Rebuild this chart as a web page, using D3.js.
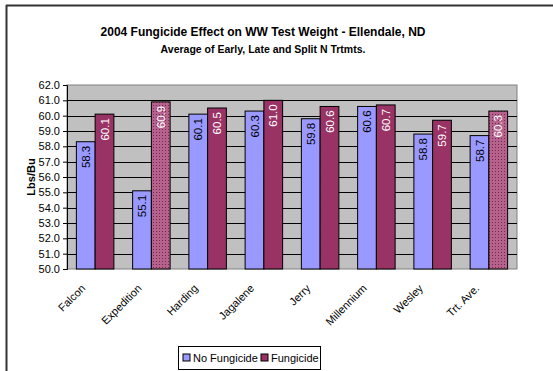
<!DOCTYPE html>
<html><head><meta charset="utf-8">
<script src="https://cdn.jsdelivr.net/npm/d3@7"></script>
<style>body{margin:0;background:#fff;}svg{display:block;font-family:"Liberation Sans",Arial,sans-serif;}</style>
</head><body><svg id="c" width="553" height="371"></svg>
<script>
const categories = ["Falcon","Expedition","Harding","Jagalene","Jerry","Millennium","Wesley","Trt. Ave."];
const noFungicide = [58.3,55.1,60.1,60.3,59.8,60.6,58.8,58.7];
const fungicide = [60.1,60.9,60.5,61.0,60.6,60.7,59.7,60.3];
const patterned = ["Expedition","Trt. Ave."];
const yTicks = [50,51,52,53,54,55,56,57,58,59,60,61,62];
const seriesNames = ["No Fungicide","Fungicide"];

const svg = d3.select("#c");
const defs = svg.append("defs");
const pat = defs.append("pattern").attr("id","dots").attr("patternUnits","userSpaceOnUse").attr("width",3).attr("height",3);
pat.append("rect").attr("width",3).attr("height",3).attr("fill","#b5628c");
pat.append("rect").attr("width",1).attr("height",1).attr("fill","#7a2450");

// outer border
svg.append("line").attr("x1",6).attr("y1",5.5).attr("x2",553).attr("y2",5.5).attr("stroke","#333").attr("stroke-width",2);
svg.append("line").attr("x1",6.5).attr("y1",5).attr("x2",6.5).attr("y2",371).attr("stroke","#333").attr("stroke-width",2);

const L=67,R=517,T=85,B=269;
const x = d3.scaleBand().domain(categories).range([L,R]).paddingInner(0).paddingOuter(0);
const y = d3.scaleLinear().domain([50,62]).range([B,T]);

svg.append("rect").attr("x",L).attr("y",T).attr("width",R-L).attr("height",B-T).attr("fill","#c0c0c0").attr("stroke","#808080").attr("stroke-width",1);

svg.append("g").selectAll("line").data(yTicks.slice(1,-1)).join("line")
  .attr("x1",L).attr("x2",R).attr("y1",d=>Math.round(y(d))+0.5).attr("y2",d=>Math.round(y(d))+0.5)
  .attr("stroke","#000").attr("stroke-width",1);

const yAxis = d3.axisLeft(y).tickValues(yTicks).tickFormat(d3.format(".1f")).tickSize(4).tickPadding(3);
const ga = svg.append("g").attr("transform",`translate(${L},0)`).call(yAxis);
ga.select(".domain").attr("stroke","#000");
ga.selectAll(".tick line").attr("stroke","#000");
ga.selectAll("text").attr("font-size",11).attr("fill","#000").attr("font-family","Liberation Sans, Arial");

const bw = x.bandwidth()/3;
const inner = d3.scaleBand().domain(seriesNames).range([0,2*bw]);
const colors = {"No Fungicide":"#9999ff","Fungicide":"#993366"};
const data = [];
categories.forEach((c,i)=>{
  data.push({c,s:"No Fungicide",v:noFungicide[i]});
  data.push({c,s:"Fungicide",v:fungicide[i]});
});
const bars = svg.append("g");
bars.selectAll("rect").data(data).join("rect")
  .attr("x",d=>x(d.c)+bw+inner(d.s)-bw/2)
  .attr("y",d=>y(d.v))
  .attr("width",inner.bandwidth())
  .attr("height",d=>B-y(d.v))
  .attr("fill",d=>(d.s==="Fungicide"&&patterned.includes(d.c))?"url(#dots)":colors[d.s])
  .attr("stroke","#000").attr("stroke-width",1);

bars.selectAll("text").data(data).join("text")
  .attr("transform",d=>`translate(${x(d.c)+bw+inner(d.s)-bw/2+inner.bandwidth()/2+4},${y(d.v)+4}) rotate(-90)`)
  .attr("text-anchor","end").attr("font-size",11.5)
  .attr("fill",d=>d.s==="Fungicide"?"#fff":"#000")
  .text(d=>d3.format(".1f")(d.v));

svg.append("g").selectAll("text").data(categories).join("text")
  .attr("transform",d=>`translate(${x(d)+x.bandwidth()/2-9},${B+20}) rotate(-45)`)
  .attr("text-anchor","end").attr("font-size",11).attr("fill","#000").text(d=>d);

svg.append("text").attr("x",263).attr("y",36).attr("text-anchor","middle").attr("font-weight","bold").attr("font-size",12).text("2004 Fungicide Effect on WW Test Weight - Ellendale, ND");
svg.append("text").attr("x",263).attr("y",53).attr("text-anchor","middle").attr("font-weight","bold").attr("font-size",10.5).text("Average of Early, Late and Split N Trtmts.");
svg.append("text").attr("transform",`translate(35,${(T+B)/2}) rotate(-90)`).attr("text-anchor","middle").attr("font-weight","bold").attr("font-size",11).text("Lbs/Bu");

// legend
const lg = svg.append("g");
lg.append("rect").attr("x",178.5).attr("y",346.5).attr("width",142).attr("height",23).attr("fill","#fff").attr("stroke","#000");
seriesNames.forEach((s,i)=>{
  const ox = i===0?183:261;
  lg.append("rect").attr("x",ox).attr("y",354).attr("width",7).attr("height",7).attr("fill",colors[s]).attr("stroke","#000");
  lg.append("text").attr("x",ox+10).attr("y",362).attr("font-size",11).text(s);
});
</script></body></html>
